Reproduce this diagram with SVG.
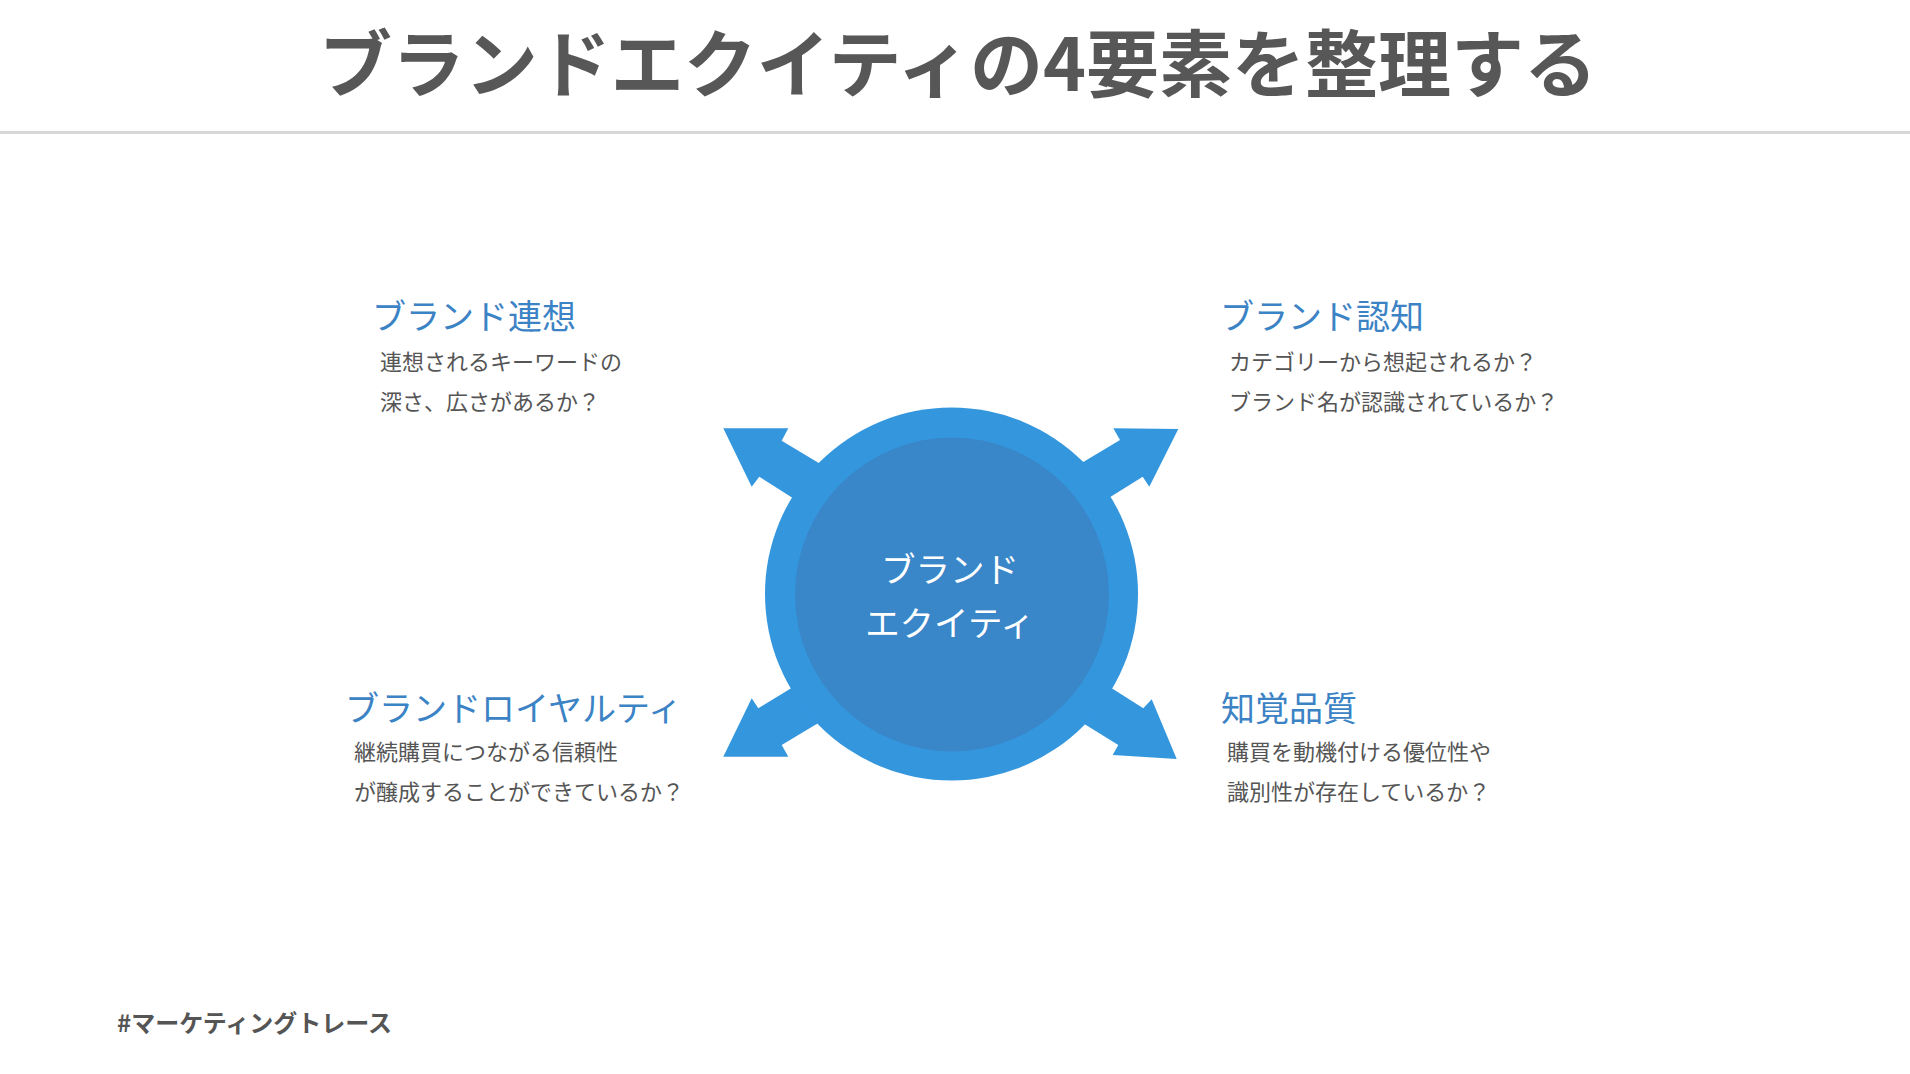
<svg xmlns="http://www.w3.org/2000/svg" width="1910" height="1074" viewBox="0 0 1910 1074">
  <style>
    text { font-family: "Noto Sans CJK JP", "Noto Sans", sans-serif; }
    .title { font-size: 73px; font-weight: 700; fill: #575757; }
    .head { font-size: 34px; fill: #3b83c5; }
    .desc { font-size: 22px; fill: #555555; }
    .center { font-size: 34.5px; fill: #ffffff; }
    .foot { font-size: 24px; font-weight: 700; fill: #555555; }
    .arrow { fill: #3497de; }
  </style>
  <rect x="0" y="0" width="1910" height="1074" fill="#ffffff"/>

  <g id="header">
    <text class="title" x="958" y="91" text-anchor="middle">ブランドエクイティの4要素を整理する</text>
    <rect x="0" y="131" width="1910" height="3" fill="#d8d8d8"/>
  </g>

  <g id="connectors">
    <polygon class="arrow" points="723.3,428.3 788.3,428.3 781.7,440.7 900,511.8 880,553.5 759.3,476.7 751.7,486.7"/>
    <polygon class="arrow" points="1178.3,429 1113.3,428.3 1120,440 1000,511.8 1020,553.5 1142.7,476.7 1149.3,486.7"/>
    <polygon class="arrow" points="723.3,756.7 788.3,756.7 781.7,745 900,674 880,634 758.3,708.3 751.7,698.3"/>
    <polygon class="arrow" points="1176.7,759 1112.7,755 1118.3,745 1000,672 1020,630 1143.3,708.3 1151.7,699.3"/>
  </g>

  <g id="center-node">
    <circle cx="951.5" cy="594" r="186.5" fill="#3497de"/>
    <circle cx="952" cy="594.5" r="157" fill="#3986c8"/>
    <text class="center" x="950" y="582" text-anchor="middle">ブランド</text>
    <text class="center" x="950" y="636" text-anchor="middle">エクイティ</text>
  </g>

  <g id="node-association">
    <text class="head" x="372" y="329">ブランド連想</text>
    <text class="desc" x="380" y="370">連想されるキーワードの</text>
    <text class="desc" x="380" y="410">深さ、広さがあるか？</text>
  </g>

  <g id="node-awareness">
    <text class="head" x="1220" y="329">ブランド認知</text>
    <text class="desc" x="1229" y="370">カテゴリーから想起されるか？</text>
    <text class="desc" x="1229" y="410">ブランド名が認識されているか？</text>
  </g>

  <g id="node-loyalty">
    <text class="head" x="345" y="721">ブランドロイヤルティ</text>
    <text class="desc" x="354" y="760">継続購買につながる信頼性</text>
    <text class="desc" x="354" y="800">が醸成することができているか？</text>
  </g>

  <g id="node-quality">
    <text class="head" x="1221" y="721">知覚品質</text>
    <text class="desc" x="1227" y="760">購買を動機付ける優位性や</text>
    <text class="desc" x="1227" y="800">識別性が存在しているか？</text>
  </g>

  <g id="footer">
    <text class="foot" x="117" y="1032">#マーケティングトレース</text>
  </g>
</svg>
